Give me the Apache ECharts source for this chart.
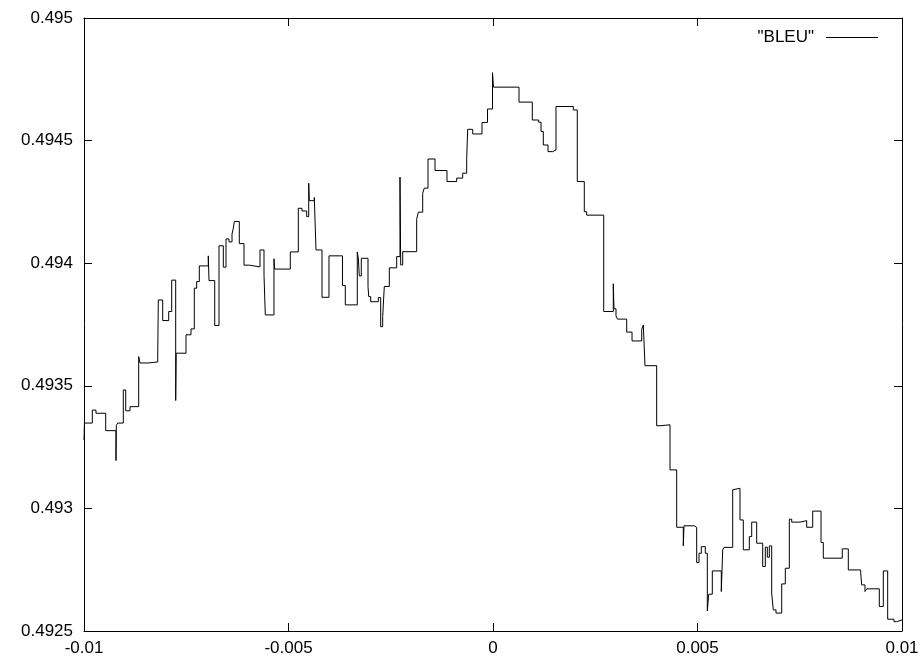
<!DOCTYPE html>
<html>
<head>
<meta charset="utf-8">
<script src="https://cdn.jsdelivr.net/npm/echarts@6/dist/echarts.min.js"></script>
<style>html,body{margin:0;padding:0;background:#fff}#c{width:923px;height:660px}</style>
</head>
<body>
<div id="c"></div>
<script>
const seriesName = '"BLEU"';
const xTickLabels = ['-0.01', '-0.005', '0', '0.005', '0.01'];
const yTickLabels = ['0.4925', '0.493', '0.4935', '0.494', '0.4945', '0.495'];
const xValues = [-0.01, -0.00999, -0.009797, -0.009707, -0.009469, -0.009218, -0.00921, -0.009176, -0.009039, -0.00898,
 -0.008875, -0.008663, -0.008631, -0.008435, -0.008198, -0.008183, -0.008076, -0.007929, -0.007856, -0.007758,
 -0.007746, -0.007506, -0.007384, -0.007303, -0.007245, -0.007181, -0.006961, -0.006944, -0.006804, -0.006699,
 -0.006594, -0.006528, -0.006455, -0.006381, -0.006349, -0.006325, -0.006203, -0.006088, -0.005958, -0.005697,
 -0.005599, -0.005567, -0.005355, -0.005338, -0.004956, -0.00476, -0.00467, -0.004555, -0.004506, -0.004491,
 -0.004369, -0.004328, -0.004181, -0.00401, -0.00368, -0.003611, -0.003318, -0.003294, -0.003269, -0.00322,
 -0.003056, -0.003039, -0.00299, -0.002804, -0.002746, -0.002697, -0.002658, -0.002535, -0.002355, -0.002274,
 -0.002257, -0.002208, -0.001866, -0.001826, -0.001719, -0.00168, -0.001589, -0.001418, -0.001125, -0.000888,
 -0.000741, -0.000643, -0.000619, -0.000496, -0.000269, -0.000134, -0.000012, 0.000012, 0.000636, 0.000961,
 0.001117, 0.001174, 0.00123, 0.001345, 0.00146, 0.00154, 0.001963, 0.002061, 0.002232, 0.002291,
 0.002707, 0.002941, 0.002958, 0.003007, 0.003044, 0.003269, 0.003399, 0.003636, 0.003675, 0.003716,
 0.004002, 0.004083, 0.004328, 0.004491, 0.004653, 0.00467, 0.004922, 0.00498, 0.005037, 0.005093,
 0.005191, 0.00524, 0.005274, 0.005362, 0.005582, 0.005616, 0.005648, 0.005861, 0.005892, 0.006039,
 0.00612, 0.006267, 0.006325, 0.006447, 0.006594, 0.006658, 0.006707, 0.006756, 0.006814, 0.006853,
 0.006919, 0.007059, 0.007147, 0.007245, 0.007303, 0.007506, 0.00767, 0.007817, 0.00802, 0.008076,
 0.00854, 0.008687, 0.00899, 0.009015, 0.009095, 0.009137, 0.009445, 0.009543, 0.00965, 0.009804,
 0.00987, 0.01];
const bleuValues = [0.493279, 0.493348, 0.493401, 0.493388, 0.493317, 0.493195, 0.493338, 0.493348, 0.493483, 0.493398,
 0.493415, 0.493619, 0.493593, 0.493597, 0.493609, 0.493850, 0.493766, 0.493803, 0.493931, 0.493440,
 0.493633, 0.493708, 0.493732, 0.493898, 0.493925, 0.493989, 0.494030, 0.493929, 0.493746, 0.494071,
 0.493984, 0.494099, 0.494087, 0.494119, 0.494143, 0.494170, 0.494080, 0.493992, 0.493985, 0.494054,
 0.493951, 0.493789, 0.494018, 0.493976, 0.494046, 0.494224, 0.494213, 0.494190, 0.494326, 0.494255,
 0.494268, 0.494054, 0.493861, 0.494030, 0.493909, 0.493830, 0.494046, 0.494022, 0.493948, 0.494020,
 0.493905, 0.493864, 0.493843, 0.493860, 0.493741, 0.493782, 0.493905, 0.493981, 0.494027, 0.494351,
 0.493993, 0.494047, 0.494179, 0.494208, 0.494285, 0.494306, 0.494425, 0.494378, 0.494333, 0.494347,
 0.494367, 0.494428, 0.494546, 0.494527, 0.494574, 0.494629, 0.494777, 0.494718, 0.494657, 0.494584,
 0.494575, 0.494537, 0.494482, 0.494455, 0.494462, 0.494639, 0.494625, 0.494333, 0.494210, 0.494196,
 0.493803, 0.493916, 0.493814, 0.493785, 0.493772, 0.493719, 0.493683, 0.493731, 0.493748, 0.493582,
 0.493337, 0.493341, 0.493157, 0.492923, 0.492847, 0.492929, 0.492923, 0.492779, 0.492817, 0.492844,
 0.492817, 0.492582, 0.492650, 0.492745, 0.492661, 0.492831, 0.492841, 0.493076, 0.493082, 0.492953,
 0.492831, 0.492885, 0.492944, 0.492858, 0.492763, 0.492842, 0.492801, 0.492847, 0.492654, 0.492586,
 0.492573, 0.492692, 0.492756, 0.492956, 0.492944, 0.492950, 0.492923, 0.492989, 0.492861, 0.492797,
 0.492835, 0.492749, 0.492736, 0.492688, 0.492661, 0.492672, 0.492600, 0.492745, 0.492548, 0.492538,
 0.492545, 0.492545];

const points = xValues.map((x, i) => [x, bleuValues[i]]);
const font = '"Liberation Sans", Arial, Helvetica, sans-serif';
const fs = 17;

function fmtX(v) {
  const idx = Math.round((v + 0.01) / 0.005);
  return xTickLabels[idx] !== undefined ? xTickLabels[idx] : '';
}
function fmtY(v) {
  const idx = Math.round((v - 0.4925) / 0.0005);
  return yTickLabels[idx] !== undefined ? yTickLabels[idx] : '';
}

const baseX = {
  type: 'value', min: -0.01, max: 0.01, interval: 0.005,
  splitLine: { show: false },
  axisLine: { show: true, onZero: false, lineStyle: { color: '#000', width: 1 } },
  axisTick: { show: true, inside: true, length: 8, lineStyle: { color: '#000', width: 1 } }
};
const baseY = {
  type: 'value', min: 0.4925, max: 0.495, interval: 0.0005,
  splitLine: { show: false },
  axisLine: { show: true, onZero: false, lineStyle: { color: '#000', width: 1 } },
  axisTick: { show: true, inside: true, length: 8, lineStyle: { color: '#000', width: 1 } }
};

const chart = echarts.init(document.getElementById('c'), null, { renderer: 'canvas' });
chart.setOption({
  animation: false,
  backgroundColor: '#fff',
  grid: { left: 84, right: 21, top: 18, bottom: 29, containLabel: false },
  legend: {
    show: true,
    right: 40, top: 24,
    padding: 5,
    itemWidth: 52, itemHeight: 1,
    align: 'right',
    selectedMode: false,
    textStyle: { fontFamily: font, fontSize: fs, color: '#000', padding: [5, 7, 0, 0] },
    data: [{ name: seriesName, icon: 'rect', itemStyle: { color: '#000' } }]
  },
  xAxis: [
    Object.assign({}, baseX, { position: 'bottom',
      axisLabel: { show: true, margin: 9, formatter: fmtX, fontFamily: font, fontSize: fs, color: '#000' } }),
    Object.assign({}, baseX, { position: 'top', axisLabel: { show: false } })
  ],
  yAxis: [
    Object.assign({}, baseY, { position: 'left',
      axisLabel: { show: true, margin: 11, formatter: fmtY, fontFamily: font, fontSize: fs, color: '#000' } }),
    Object.assign({}, baseY, { position: 'right', axisLabel: { show: false } })
  ],
  series: [{
    name: seriesName,
    type: 'line',
    step: 'end',
    symbol: 'none',
    showSymbol: false,
    xAxisIndex: 0, yAxisIndex: 0,
    lineStyle: { color: '#000', width: 1 },
    itemStyle: { color: '#000' },
    data: points
  }]
});
</script>
</body>
</html>
